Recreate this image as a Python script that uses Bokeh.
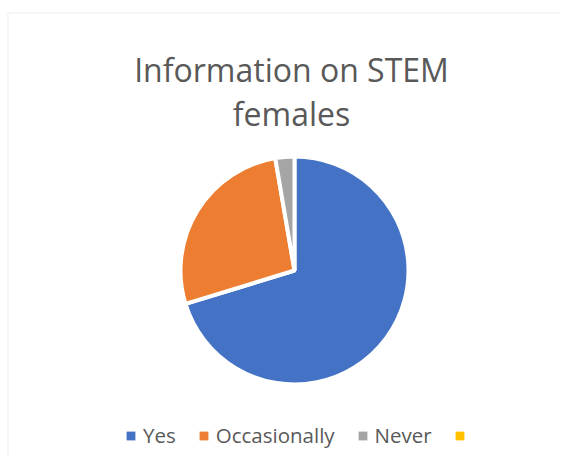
import numpy as np
from bokeh.plotting import figure
from bokeh.models import ColumnDataSource, Range1d, Label, Legend, LegendItem, BoxAnnotation
from bokeh.embed import file_html
from bokeh.resources import INLINE
from bokeh.core.properties import value

# ---- data ----
categories = ["Yes", "Occasionally", "Never", ""]
counts = [26, 10, 1, 0]
colors = ["#4472C4", "#ED7D31", "#A5A5A5", "#FFC000"]
title_lines = ["Information on STEM", "females"]

# ---- layout ----
W, H = 560, 456
CX, CY, R = 294, H - 270, 114
TEXT_COLOR = "#595959"
FONT = "Open Sans"

total = float(sum(counts))
frac = np.array(counts, dtype=float) / total
cum_end = np.cumsum(frac)
cum_start = cum_end - frac
start = np.pi / 2 - 2 * np.pi * cum_start
end = np.pi / 2 - 2 * np.pi * cum_end

full_src = ColumnDataSource(dict(
    x=[CX] * len(counts), y=[CY] * len(counts),
    start=start, end=end, color=colors, cat=categories,
))
keep = [i for i, c in enumerate(counts) if c > 0]
src = ColumnDataSource(dict(
    x=[CX] * len(keep), y=[CY] * len(keep),
    start=[start[i] for i in keep], end=[end[i] for i in keep],
    color=[colors[i] for i in keep], cat=[categories[i] for i in keep],
))

p = figure(width=W, height=H, output_backend="svg", toolbar_location=None,
           x_range=Range1d(0, W), y_range=Range1d(0, H),
           x_axis_location=None, y_axis_location=None, min_border=0)
p.grid.visible = False
p.outline_line_color = None
p.background_fill_color = "white"
p.border_fill_color = "white"

border = BoxAnnotation(left=7.5, right=W + 20, top=H - 12.5, bottom=-20,
                       fill_color=None, line_color="#D9D9D9", line_width=1.5)
p.add_layout(border)

wr = p.wedge(x="x", y="y", radius=R, radius_units="screen",
             start_angle="start", end_angle="end", direction="clock",
             fill_color="color", line_color="white", line_width=4, source=src)

# legend proxy: same slices, zero radius, no outline (only supplies swatches)
proxy = p.wedge(x="x", y="y", radius=0, radius_units="screen",
                start_angle="start", end_angle="end", direction="clock",
                fill_color="color", line_color=None, source=full_src)

for txt, yb in zip(title_lines, [H - 69, H - 113]):
    p.add_layout(Label(x=291, y=yb, text=txt, text_align="center",
                       text_baseline="alphabetic", text_font=FONT,
                       text_font_size="32px", text_color=TEXT_COLOR))

items = [LegendItem(label=value(c), renderers=[proxy], index=i)
         for i, c in enumerate(categories)]

legend = Legend(items=items, orientation="horizontal", location=(125, 6),
                glyph_width=11, glyph_height=11, label_standoff=7, spacing=22,
                padding=0, margin=0, border_line_color=None,
                background_fill_alpha=0, label_height=30,
                label_text_font=FONT, label_text_font_size="20.5px",
                label_text_color=TEXT_COLOR)
p.add_layout(legend)

open("out.html", "w").write(file_html(p, INLINE))
